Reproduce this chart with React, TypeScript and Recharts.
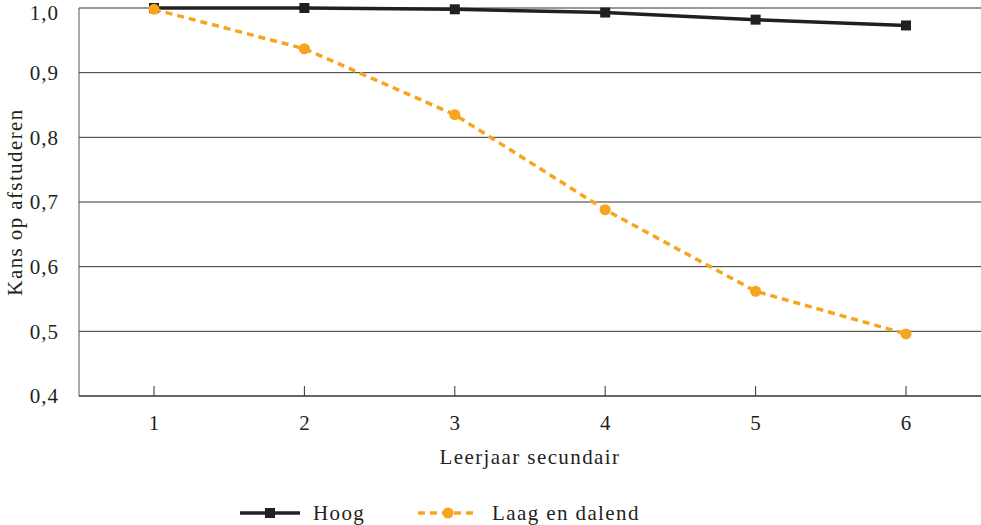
import { LineChart, Line, XAxis, YAxis, CartesianGrid, Legend } from "recharts";

const years = ["1", "2", "3", "4", "5", "6"];
const hoog = [1.0, 1.0, 0.998, 0.993, 0.982, 0.973];
const laagEnDalend = [0.998, 0.937, 0.835, 0.688, 0.562, 0.496];
const yTicks = [0.4, 0.5, 0.6, 0.7, 0.8, 0.9, 1.0];

const data = years.map((year, i) => ({
  year,
  hoog: hoog[i],
  laag: laagEnDalend[i],
}));

const FONT = "'Liberation Serif', 'Times New Roman', serif";
const FS = 21;
const LS = 1.4;
const TEXT = "#231f20";
const BLACK = "#231f20";
const ORANGE = "#f7a51e";

// ─── x tick with the tick mark pointing into the plot
const XTick = ({ x, y, payload }: { x?: number; y?: number; payload?: { value: string } }) => (
  <g>
    <line x1={x} x2={x} y1={(y ?? 0) - 10} y2={y} stroke="#333" strokeWidth={1} />
    <text x={x} y={(y ?? 0) + 34} textAnchor="middle" fontSize={FS} fontFamily={FONT} fill={TEXT}>
      {payload?.value}
    </text>
  </g>
);

const LegendContent = () => (
  <svg width={981} height={45} style={{ display: "block" }}>
    <line x1={240} x2={300} y1={33} y2={33} stroke={BLACK} strokeWidth={3.5} />
    <rect x={265} y={28} width={10} height={10} fill={BLACK} />
    <text x={313} y={40} fontSize={FS} letterSpacing={LS} fontFamily={FONT} fill={TEXT}>Hoog</text>
    <line x1={418} x2={478} y1={33} y2={33} stroke={ORANGE} strokeWidth={3.5} strokeDasharray="7 5" />
    <circle cx={448} cy={33} r={5.5} fill={ORANGE} />
    <text x={492} y={40} fontSize={FS} letterSpacing={LS} fontFamily={FONT} fill={TEXT}>Laag en dalend</text>
  </svg>
);

export default function App() {
  return (
    <div style={{ position: "absolute", left: 0, top: 0, background: "#fff" }}>
      <LineChart width={981} height={525} data={data} margin={{ top: 8, right: 0, bottom: 0, left: 0 }}>
        <CartesianGrid vertical={false} stroke="#333" strokeWidth={1} />
        <XAxis
          dataKey="year"
          height={84}
          padding={{ left: 75, right: 75 }}
          tickLine={false}
          tickSize={0}
          tickMargin={0}
          stroke="#555"
          strokeWidth={1.5}
          tick={<XTick />}
          label={{ value: "Leerjaar secundair", position: "insideBottom", offset: 16, fontSize: FS, letterSpacing: LS, fontFamily: FONT, fill: TEXT }}
        />
        <YAxis
          domain={[0.4, 1.0]}
          ticks={yTicks}
          width={79}
          tickLine={false}
          stroke="#555"
          tickMargin={14}
          tickFormatter={(v: number) => v.toFixed(1).replace(".", ",")}
          tick={{ fontSize: FS, letterSpacing: 1, fontFamily: FONT, fill: TEXT }}
          label={{ value: "Kans op afstuderen", angle: -90, position: "insideLeft", offset: 15, fontSize: FS, letterSpacing: LS, fontFamily: FONT, fill: TEXT, style: { textAnchor: "middle" } }}
        />
        <Legend verticalAlign="bottom" height={45} content={<LegendContent />} />
        <Line
          type="linear"
          dataKey="hoog"
          name="Hoog"
          stroke={BLACK}
          strokeWidth={3.5}
          dot={(p: { cx?: number; cy?: number; index?: number }) => (
            <rect key={p.index} x={(p.cx ?? 0) - 5} y={(p.cy ?? 0) - 5} width={10} height={10} fill={BLACK} />
          )}
          isAnimationActive={false}
        />
        <Line
          type="linear"
          dataKey="laag"
          name="Laag en dalend"
          stroke={ORANGE}
          strokeWidth={3.5}
          strokeDasharray="7 5"
          dot={{ r: 5.5, fill: ORANGE, stroke: "none" }}
          isAnimationActive={false}
        />
      </LineChart>
    </div>
  );
}
